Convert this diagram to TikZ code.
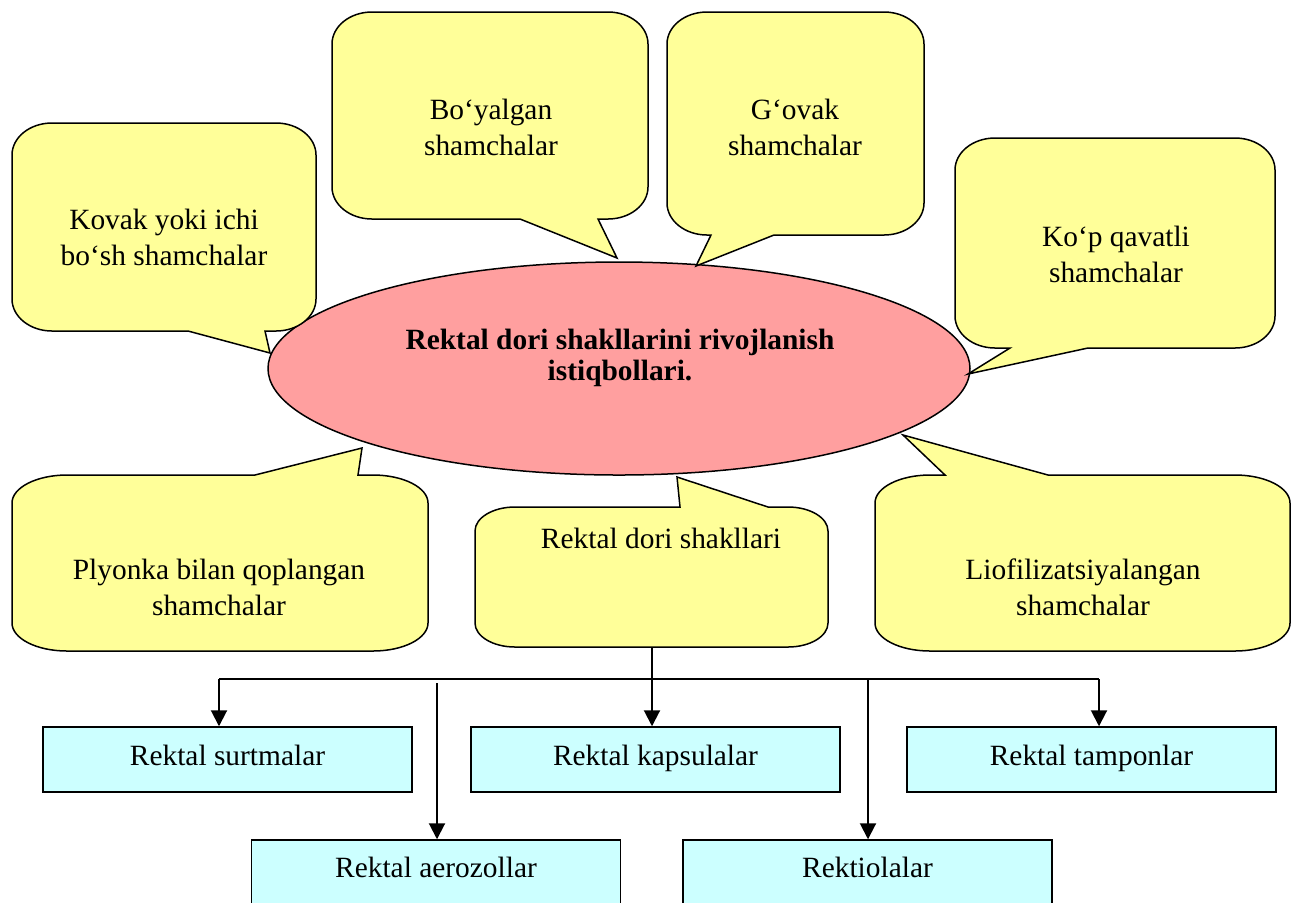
\documentclass[tikz,border=0pt]{standalone}
\usepackage{fontspec}
\setmainfont{Liberation Serif}
\usetikzlibrary{arrows.meta,shapes.geometric}
\definecolor{bubblefill}{HTML}{FFFF99}
\definecolor{ovalfill}{HTML}{FF9F9F}
\definecolor{boxfill}{HTML}{CCFFFF}
% callout with tail on the bottom edge: L T R B  xRightBase tipx tipy xLeftBase
\newcommand\bubbleDown[8]{%
  \filldraw[bubble] ({#1+\ra},#2) -- ({#3-\ra},#2)
    .. controls ({#3-0.4477*\ra},#2) and (#3,{#2+0.4477*\rb}) .. (#3,{#2+\rb})
    -- (#3,{#4-\rb})
    .. controls (#3,{#4-0.4477*\rb}) and ({#3-0.4477*\ra},#4) .. ({#3-\ra},#4)
    -- (#5,#4) -- (#6,#7) -- (#8,#4) -- ({#1+\ra},#4)
    .. controls ({#1+0.4477*\ra},#4) and (#1,{#4-0.4477*\rb}) .. (#1,{#4-\rb})
    -- (#1,{#2+\rb})
    .. controls (#1,{#2+0.4477*\rb}) and ({#1+0.4477*\ra},#2) .. cycle;}
% callout with tail on the top edge: L T R B  xLeftBase tipx tipy xRightBase
\newcommand\bubbleUp[8]{%
  \filldraw[bubble] ({#1+\ra},#2) -- (#5,#2) -- (#6,#7) -- (#8,#2) -- ({#3-\ra},#2)
    .. controls ({#3-0.4477*\ra},#2) and (#3,{#2+0.4477*\rb}) .. (#3,{#2+\rb})
    -- (#3,{#4-\rb})
    .. controls (#3,{#4-0.4477*\rb}) and ({#3-0.4477*\ra},#4) .. ({#3-\ra},#4)
    -- ({#1+\ra},#4)
    .. controls ({#1+0.4477*\ra},#4) and (#1,{#4-0.4477*\rb}) .. (#1,{#4-\rb})
    -- (#1,{#2+\rb})
    .. controls (#1,{#2+0.4477*\rb}) and ({#1+0.4477*\ra},#2) .. cycle;}
\begin{document}
\begin{tikzpicture}[x=0.5pt,y=-0.5pt,
  font=\fontsize{14.7}{18}\selectfont,
  bubble/.style={draw=black,fill=bubblefill,line width=0.75pt,line join=miter},
  lbl/.style={align=center,inner sep=0pt},
  rbox/.style={draw=black,fill=boxfill,line width=0.75pt,minimum width=184.5pt,
    inner sep=0pt,text height=19pt,text depth=13.5pt},
  rboxlow/.style={rbox,text height=18.5pt,text depth=14pt},
  conn/.style={line width=1pt},
  arr/.style={conn,-{Triangle[length=8pt,width=8pt]}}]
\useasboundingbox (0,0) rectangle (1300,902);

% central oval
\node[ellipse,draw=black,fill=ovalfill,line width=0.75pt,minimum width=351pt,
  minimum height=106.5pt,inner sep=0pt] (oval) at (619,368.5) {};
\node[lbl,font=\fontsize{14.7}{15.5}\selectfont\bfseries] (title) at (620,358)
  {Rektal dori shakllarini rivojlanish\\istiqbollari.};

% callouts with tail downward
\def\ra{40}\def\rb{32}
\bubbleDown{12}{123}{316}{331}{265}{270}{353}{188}
\bubbleDown{332}{12}{648}{219}{598}{617}{258}{520}
\bubbleDown{667}{12}{924}{235}{774}{696}{266}{711}
\bubbleDown{955}{138}{1275}{348}{1088}{968}{374}{1010}
% callouts with tail upward
\def\ra{55}\def\rb{28}
\bubbleUp{12}{475}{428}{651}{255}{362}{448}{358}
\bubbleUp{875}{475}{1290}{651}{945}{903}{435}{1048}
\def\ra{40}\def\rb{24}
\bubbleUp{475}{507}{828}{647}{680}{677}{477}{768}

\node[lbl] (kovak) at (164,237) {Kovak yoki ichi\\bo‘sh shamchalar};
\node[lbl] (boyal) at (491,127) {Bo‘yalgan\\shamchalar};
\node[lbl] (govak) at (795,127) {G‘ovak\\shamchalar};
\node[lbl] (kop) at (1116,254) {Ko‘p qavatli\\shamchalar};
\node[lbl] (plyon) at (219,587) {Plyonka bilan qoplangan\\shamchalar};
\node[lbl] (rdori) at (661,538) {Rektal dori shakllari};
\node[lbl] (liof) at (1083,587) {Liofilizatsiyalangan\\shamchalar};

% bottom boxes
\node[rbox] (surt) at (227.5,759.5) {Rektal surtmalar};
\node[rbox] (kaps) at (655.5,759.5) {Rektal kapsulalar};
\node[rbox] (tamp) at (1091.5,759.5) {Rektal tamponlar};
\node[rboxlow] (aero) at (436,872.5) {Rektal aerozollar};
\node[rboxlow] (rekt) at (867.5,872.5) {Rektiolalar};

% connectors
\coordinate (trunk) at (652,647);
\coordinate (hl) at (219,679);
\coordinate (hr) at (1099,679);
\coordinate (va) at (437,683);
\coordinate (vr) at (868,679);
\draw[conn] (hl) -- (hr);
\draw[arr] (hl) -- (hl |- surt.north);
\draw[arr] (trunk) -- (trunk |- kaps.north);
\draw[arr] (hr) -- (hr |- tamp.north);
\draw[arr] (va) -- (va |- aero.north);
\draw[arr] (vr) -- (vr |- rekt.north);
\end{tikzpicture}
\end{document}
